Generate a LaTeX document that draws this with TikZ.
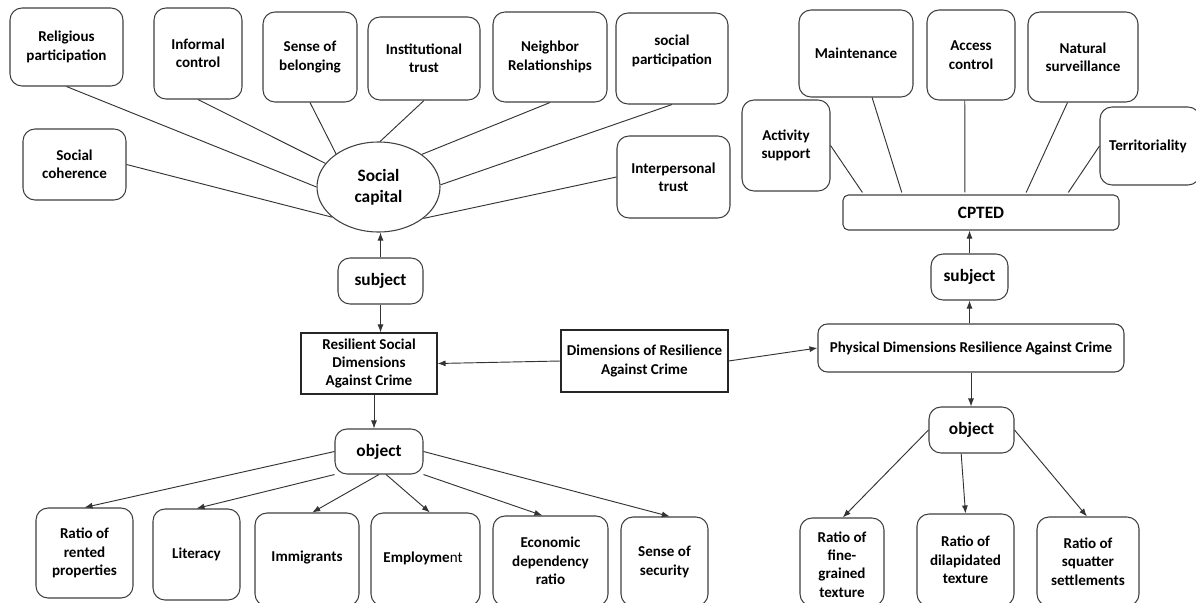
\documentclass[tikz,border=0pt]{standalone}
\usepackage{fontspec}
\setmainfont{Carlito}
\usetikzlibrary{shapes.geometric,arrows.meta,calc}
\begin{document}
\begin{tikzpicture}[x=0.75pt,y=-0.75pt,
  every node/.style={font=\bfseries\fontsize{11.3}{13.8}\selectfont, align=center, inner sep=0pt, text=black},
  rbox/.style={draw=black!75, line width=0.8pt, rounded corners=9pt},
  sbox/.style={draw=black!85, line width=0.8pt},
  sz/.style 2 args={minimum width=#1*0.75pt, minimum height=#2*0.75pt},
  ln/.style={draw=black!80, line width=0.7pt},
  arr/.style={ln, -{Latex[length=6pt,width=4.5pt]}},
  big/.style={font=\bfseries\fontsize{13}{16}\selectfont}
]
\clip (0,0) rectangle (1196,603);
\fill[white] (0,0) rectangle (1196,603);

% ---- Social capital cluster ----
\node[rbox, sz={113}{78}] (rp) at (66.5,47) {Religious\\participation};
\node[rbox, sz={88}{91}] (ic) at (198,53.5) {Informal\\control};
\node[rbox, sz={94}{90}] (sb) at (310,57) {Sense of\\belonging};
\node[rbox, sz={112}{83}] (it) at (424,58.5) {Institutional\\trust};
\node[rbox, sz={114}{90}] (nr) at (550,57) {Neighbor\\Relationships};
\node[rbox, sz={112}{91}] (sp) at (672,58.5) {};
\node at (672,51) {social\\participation};
\node[rbox, sz={103}{71}] (sc) at (74.5,164.5) {Social\\coherence};
\node[rbox, sz={113}{82}] (ip) at (673.5,177) {Interpersonal\\trust};
\node[ellipse, draw=black!75, line width=0.8pt, sz={123}{90}, big] (cap) at (378.5,187) {Social\\capital};

\draw[ln] (rp.south) -- (cap.180);
\draw[ln] (ic.south) -- (cap.156);
\draw[ln] (sb.south) -- (cap.142);
\draw[ln] (sc.east) -- (cap.213);
\draw[ln] (it.south) -- (cap.88);
\draw[ln] (nr.south) -- (cap.37);
\draw[ln] (sp.south) -- (cap.2);
\draw[ln] (ip.west) -- (cap.-35);

% ---- middle ----
\node[rbox, sz={85}{46}, big] (sl) at (380.5,281) {subject};
\node[sbox, sz={136}{61}] (rs) at (369,363.5) {Resilient Social\\Dimensions\\Against Crime};
\node[sbox, sz={167}{62}] (dr) at (644.5,361) {Dimensions of Resilience\\Against Crime};
\node[rbox, rounded corners=7pt, sz={306}{48}] (pd) at (971,348) {Physical Dimensions Resilience Against Crime};
\node[rbox, sz={77}{46}, big] (sr) at (969.5,277) {subject};
\node[rbox, rounded corners=4pt, sz={276}{35}, big] (cp) at (981,212.5) {CPTED};

\draw[arr] (sl.north) -- (sl.north |- cap.south);
\draw[arr] (sl.south) -- (sl.south |- rs.north);
\draw[arr] (dr.west) -- (rs.east);
\draw[arr] (dr.east) -- (pd.west);
\draw[arr] (sr.south |- pd.north) -- (sr.south);
\draw[arr] (sr.north) -- (sr.north |- cp.south);

% ---- CPTED cluster ----
\node[rbox, sz={88}{91}] (as) at (786,145.5) {Activity\\support};
\node[rbox, sz={114}{87}] (mt) at (856,53.5) {Maintenance};
\node[rbox, sz={88}{90}] (ac) at (971,55) {Access\\control};
\node[rbox, sz={110}{90}] (ns) at (1083,57) {Natural\\surveillance};
\node[rbox, sz={100}{78}] (te) at (1150,146) {};
\node at (1148,146) {Territoriality};

\draw[ln] (as.east) -- ($(cp.north west)!0.072!(cp.north east)+(0,-2)$);
\draw[ln] ($(mt.south west)!0.64!(mt.south east)$) -- ($(cp.north west)!0.214!(cp.north east)+(0,-2)$);
\draw[ln] ($(ac.south west)!0.43!(ac.south east)$) -- ($(cp.north west)!0.442!(cp.north east)+(0,-2)$);
\draw[ln] ($(ns.south west)!0.36!(ns.south east)$) -- ($(cp.north west)!0.663!(cp.north east)+(0,-2)$);
\draw[ln] (te.west) -- ($(cp.north west)!0.815!(cp.north east)+(0,-2)$);

% ---- bottom left ----
\node[rbox, sz={88}{45}, big] (ol) at (379,451.5) {object};
\node[rbox, sz={97}{90}] (r1) at (84.5,553) {Ratio of\\rented\\properties};
\node[rbox, sz={87}{91}] (r2) at (196.5,554.5) {Literacy};
\node[rbox, sz={104}{93}] (r3) at (307,559.5) {};
\node at (307,557) {Immigrants};
\node[rbox, sz={109}{93}] (r4) at (425.5,559.5) {};
\node at (423,558) {Employme{\mdseries nt}};
\node[rbox, sz={115}{90}] (r5) at (550.5,561) {Economic\\dependency\\ratio};
\node[rbox, sz={87}{89}] (r6) at (664.5,561.5) {};
\node at (664.5,562) {Sense of\\security};

\coordinate (rsb) at ($(rs.south)+(5,0)$);
\draw[arr] (rsb) -- (rsb |- ol.north);
\draw[arr] (ol.west) -- (r1.north);
\draw[arr] (ol.south west) -- (r2.north);
\draw[arr] (ol.south) -- ($(r3.north west)!0.55!(r3.north east)$);
\draw[arr] ($(ol.south west)!0.58!(ol.south east)$) -- ($(r4.north west)!0.54!(r4.north east)$);
\draw[arr] (ol.south east) -- ($(r5.north west)!0.43!(r5.north east)$);
\draw[arr] (ol.east) -- ($(r6.north west)!0.56!(r6.north east)$);

% ---- bottom right ----
\node[rbox, sz={85}{46}, big] (or) at (971.5,430) {object};
\node[rbox, sz={84}{88}] (f1) at (842,562) {};
\node at (842,564.5) {Ratio of\\fine-\\grained\\texture};
\node[rbox, sz={97}{92}] (f2) at (965.5,560) {Ratio of\\dilapidated\\texture};
\node[rbox, sz={102}{89}] (f3) at (1088,561.5) {Ratio of\\squatter\\settlements};

\draw[arr] (pd.south) -- (pd.south |- or.north);
\draw[arr] (or.west) -- ($(f1.north west)!0.51!(f1.north east)$);
\draw[arr] ($(or.south west)!0.38!(or.south east)$) -- (f2.north);
\draw[arr] (or.east) -- ($(f3.north west)!0.49!(f3.north east)$);
\end{tikzpicture}
\end{document}
